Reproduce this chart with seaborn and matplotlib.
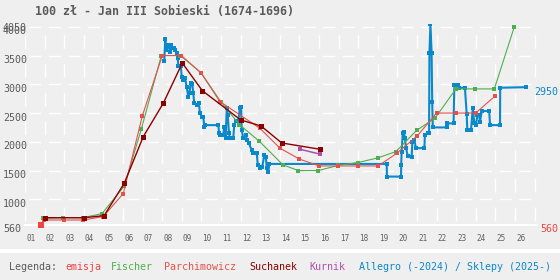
import matplotlib
matplotlib.use("Agg")
import matplotlib.pyplot as plt
import matplotlib.transforms as mtrans
from matplotlib.patches import Rectangle
import pandas as pd
import seaborn as sns

# ---------------- data ----------------
title = "100 zł - Jan III Sobieski (1674-1696)"

emisja_x = [2001.83]
emisja_y = [560]

fischer_x = [2001.90, 2002.95, 2003.94, 2004.92, 2006.06, 2006.93, 2007.95, 2008.92,
             2009.98, 2010.98, 2011.93, 2012.95, 2014.15, 2014.94, 2015.96, 2016.98,
             2018.00, 2018.99, 2019.92, 2020.98, 2021.91, 2022.98, 2023.97, 2024.94, 2025.96]
fischer_y = [670, 680, 680, 750, 1230, 2220, 3500, 3500,
             3200, 2700, 2300, 2010, 1600, 1500, 1500, 1590,
             1640, 1720, 1830, 2200, 2410, 2920, 2920, 2920, 4000]

parch_x = [2001.98, 2003.00, 2003.97, 2004.99, 2006.01, 2006.98, 2008.00, 2008.97,
           2009.97, 2010.94, 2012.98, 2014.00, 2014.99, 2016.01, 2016.98, 2018.00,
           2019.02, 2019.96, 2021.00, 2021.99, 2022.99, 2023.99, 2024.99]
parch_y = [640, 640, 640, 700, 1100, 2450, 3500, 3500,
           3200, 2700, 2235, 1890, 1700, 1580, 1580, 1580,
           1580, 1800, 2100, 2500, 2500, 2500, 2800]

suchanek_x = [2002.03, 2004.00, 2005.03, 2006.06, 2007.03, 2008.05, 2009.02, 2010.04,
              2012.00, 2013.04, 2014.09, 2016.05]
suchanek_y = [680, 680, 715, 1280, 2090, 2670, 3370, 2890,
              2380, 2275, 1980, 1870]

kurnik_x = [2015.03, 2016.05]
kurnik_y = [1870, 1785]

allegro_x = [2008.10, 2008.15, 2008.21, 2008.31, 2008.39, 2008.45, 2008.53, 2008.61,
             2008.65, 2008.73, 2008.79, 2008.82, 2008.95, 2008.99, 2009.07, 2009.16,
             2009.24, 2009.33, 2009.38, 2009.45, 2009.53, 2009.58, 2009.63, 2009.76,
             2009.87, 2009.92, 2010.01, 2010.09, 2010.14, 2010.16, 2010.86, 2010.90,
             2010.94, 2011.11, 2011.16, 2011.23, 2011.29, 2011.34, 2011.40, 2011.45,
             2011.62, 2011.67, 2011.76, 2011.88, 2011.96, 2012.02, 2012.05, 2012.13,
             2012.26, 2012.31, 2012.42, 2012.56, 2012.64, 2012.82, 2012.87, 2012.98,
             2013.10, 2013.20, 2013.28, 2013.33, 2013.41, 2013.46, 2019.45, 2019.46,
             2020.18, 2020.19, 2020.21, 2020.27, 2020.33, 2020.38, 2020.43, 2020.52,
             2020.72, 2020.76, 2020.86, 2020.94, 2021.37, 2021.40, 2021.54, 2021.61,
             2021.63, 2021.68, 2021.74, 2021.77, 2021.80, 2022.51, 2022.54, 2022.86,
             2022.90, 2023.10, 2023.15, 2023.44, 2023.53, 2023.56, 2023.75, 2023.84,
             2023.92, 2024.01, 2024.07, 2024.16, 2024.21, 2024.30, 2024.68, 2024.72,
             2025.23, 2025.24, 2026.54]
allegro_y = [3400, 3790, 3600, 3680, 3560, 3680, 3640, 3640,
             3600, 3540, 3450, 3310, 3310, 3130, 3075, 3115,
             2960, 2785, 2845, 3020, 3000, 2845, 2670, 2640,
             2670, 2495, 2440, 2440, 2265, 2290, 2290, 2150,
             2120, 2120, 2265, 2060, 2585, 2465, 2150, 2060,
             2060, 2290, 2370, 2370, 2585, 2610, 2205, 2060,
             2120, 2030, 1975, 1855, 1800, 1800, 1600, 1540,
             1565, 1770, 1740, 1540, 1480, 1615, 1615, 1395,
             1395, 1600, 1830, 2150, 2165, 2060, 1900, 1760,
             1740, 2000, 2030, 1890, 1890, 2120, 2150, 2150,
             3540, 4050, 3540, 2700, 2250, 2250, 2320, 2320,
             2980, 2980, 2940, 2940, 2480, 2205, 2205, 2585,
             2320, 2290, 2465, 2465, 2350, 2535, 2535, 2290,
             2290, 2940, 2950]

legend_names = ["emisja", "Fischer", "Parchimowicz", "Suchanek", "Kurnik",
                "Allegro (-2024) / Sklepy (2025-)"]
legend_title = "Legenda:"

year_ticks = list(range(2001, 2028))
year_labels = ["01", "02", "03", "04", "05", "06", "07", "08", "09", "10", "11", "12", "13",
               "14", "15", "16", "17", "18", "19", "20", "21", "22", "23", "24", "25", "26", ""]
value_ticks = [560, 1000, 1500, 2000, 2500, 3000, 3500, 4000, 4050]

# ---------------- style ----------------
BG = "#efefef"
C_EMISJA = "#f04444"
C_FISCHER = "#4fae4f"
C_PARCH = "#e2524a"
C_SUCH = "#8b0000"
C_KURNIK = "#ad4fad"
C_ALLEGRO = "#0a88cc"
TXT = "#5a5a5a"
MONO = ["DejaVu Sans Mono"]

sns.set_style("white")
plt.rcParams["font.family"] = MONO
plt.rcParams["lines.scale_dashes"] = False

W, H = 560, 280
fig = plt.figure(figsize=(W / 100, H / 100), dpi=100, facecolor=BG)

x0, x1 = 2001.0, 2027.1
y0, y1 = 560, 4050
px_per_year = 19.6
px_per_unit = 0.0575
left_px = 25.1
bottom_px = 224.6
ax_w = (x1 - x0) * px_per_year
ax_h = (y1 - y0) * px_per_unit
ax = fig.add_axes([left_px / W, 1 - bottom_px / H, ax_w / W, ax_h / H])
ax.set_facecolor(BG)
ax.set_xlim(x0, x1)
ax.set_ylim(y0, y1)

# grid with gaps at the intersections
pt = 0.72
h_on, h_off = 12.0, 7.6
v_on, v_off = 13.5, 15.25
h_offset = (h_on + h_off / 2) * pt
v_period = 500 * px_per_unit
v_offset = ((v_on + v_off / 2) - (1000 - y0) * px_per_unit) % v_period * pt
ax.set_xticks(year_ticks)
ax.set_xticklabels(year_labels)
ax.set_yticks(value_ticks)
ax.set_yticklabels([str(v) for v in value_ticks])
ax.grid(True, axis="y", color="white", lw=1.0,
        linestyle=(h_offset, (h_on * pt, h_off * pt)))
ax.grid(True, axis="x", color="white", lw=1.0,
        linestyle=(v_offset, (v_on * pt, v_off * pt)))
for v, gl in zip(value_ticks, ax.get_ygridlines()):
    if v in (560, 4050):
        gl.set_visible(False)
ax.set_axisbelow(True)

for s in ["left", "right", "top"]:
    ax.spines[s].set_visible(False)
ax.spines["bottom"].set_color("white")
ax.spines["bottom"].set_linewidth(1.5)

ax.tick_params(axis="both", length=0)
ax.tick_params(axis="x", labelsize=5.5, labelcolor="#606060", pad=7)
ax.tick_params(axis="y", labelsize=7.2, labelcolor=TXT, pad=16)
for lab in ax.get_xticklabels():
    lab.set_ha("left")
    lab.set_transform(lab.get_transform() + mtrans.ScaledTranslation(0.01, 0, fig.dpi_scale_trans))
for lab in ax.get_yticklabels():
    lab.set_ha("left")
    lab.set_transform(lab.get_transform() + mtrans.ScaledTranslation(0, -0.035, fig.dpi_scale_trans))

# ---------------- series ----------------
def series(xs, ys, color, lw, ms, z):
    df = pd.DataFrame({"rok": xs, "cena": ys})
    sns.lineplot(data=df, x="rok", y="cena", ax=ax, color=color, lw=lw,
                 marker="s", markersize=ms, markeredgewidth=0,
                 estimator=None, sort=False, zorder=z, legend=False)

series(allegro_x, allegro_y, C_ALLEGRO, 1.5, 2.6, 3)
series(fischer_x, fischer_y, C_FISCHER, 0.8, 3.0, 4)
series(parch_x, parch_y, C_PARCH, 0.8, 3.0, 5)
series(suchanek_x, suchanek_y, C_SUCH, 1.0, 3.6, 6)
series(kurnik_x, kurnik_y, C_KURNIK, 1.1, 3.0, 6)
sns.scatterplot(x=emisja_x, y=emisja_y, ax=ax, color=C_EMISJA, marker="s", s=20,
                linewidth=0, zorder=7, clip_on=False, legend=False)
ax.set_xlabel("")
ax.set_ylabel("")

# right-side value labels
tr = mtrans.blended_transform_factory(fig.transFigure, ax.transData)
off = mtrans.ScaledTranslation(0, -0.045, fig.dpi_scale_trans)
ax.text(558 / W, allegro_y[-1], str(allegro_y[-1]), transform=tr + off, ha="right",
        va="center", fontsize=7.2, color=C_ALLEGRO, clip_on=False)
ax.text(558 / W, emisja_y[0], str(emisja_y[0]), transform=tr + off, ha="right",
        va="center", fontsize=7.2, color=C_EMISJA, clip_on=False)

# title
fig.text(35 / W, 1 - 12 / H, title, ha="left", va="center", fontsize=8.4,
         fontweight="bold", color=TXT)

# separator band and legend
fig.patches.append(Rectangle((0, 1 - 253 / H), 1, 4 / H, transform=fig.transFigure,
                             facecolor="white", edgecolor="none"))
legend_colors = [C_EMISJA, C_FISCHER, C_PARCH, C_SUCH, C_KURNIK, C_ALLEGRO]
legend_pos = [65, 111, 164.3, 249.3, 309.3, 359.3]
ly = 1 - 267 / H
fig.text(9.3 / W, ly, legend_title, ha="left", va="center", fontsize=7.2, color=TXT)
for name, col, xp in zip(legend_names, legend_colors, legend_pos):
    fig.text(xp / W, ly, name, ha="left", va="center", fontsize=7.2, color=col)

fig.savefig("out.png", dpi=100, facecolor=BG)
